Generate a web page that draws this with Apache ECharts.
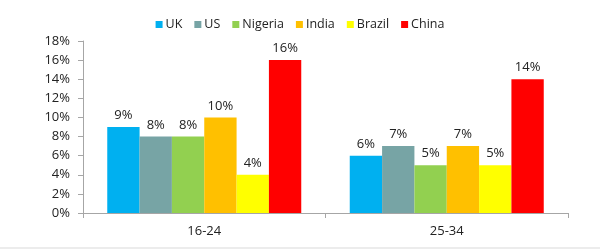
<!DOCTYPE html>
<html><head><meta charset="utf-8">
<script src="https://cdn.jsdelivr.net/npm/echarts@6/dist/echarts.min.js"></script>
<style>html,body{margin:0;padding:0;background:#fff}#c{width:600px;height:250px}</style>
</head><body><div id="c"></div>
<script>
var categories = ['16-24', '25-34'];
var seriesNames = ['UK', 'US', 'Nigeria', 'India', 'Brazil', 'China'];
var ukValues = [9, 6];
var usValues = [8, 7];
var nigeriaValues = [8, 5];
var indiaValues = [10, 7];
var brazilValues = [4, 5];
var chinaValues = [16, 14];
var yTicks = [0, 2, 4, 6, 8, 10, 12, 14, 16, 18];
var colors = ['#00B0F0', '#77A4A5', '#92D050', '#FFC000', '#FFFF00', '#FF0000'];
var allValues = [ukValues, usValues, nigeriaValues, indiaValues, brazilValues, chinaValues];
var font = "'Open Sans', 'Noto Sans', sans-serif";

var chart = echarts.init(document.getElementById('c'));
chart.setOption({
  animation: false,
  textStyle: { fontFamily: font },
  legend: {
    top: 13, left: 'center',
    itemWidth: 7, itemHeight: 7, itemGap: 12,
    icon: 'rect',
    textStyle: { fontSize: 12.5, color: '#222', fontFamily: font, padding: [0, 0, 0, -2] },
    data: seriesNames
  },
  grid: { left: 83, right: 32, top: 41, bottom: 37 },
  xAxis: {
    type: 'category', data: categories,
    axisLine: { lineStyle: { color: '#A6A6A6' } },
    axisTick: { show: true, length: 5, lineStyle: { color: '#A6A6A6' } },
    axisLabel: { fontSize: 13, color: '#222', margin: 12 }
  },
  yAxis: {
    type: 'value', min: yTicks[0], max: yTicks[yTicks.length - 1], interval: 2,
    axisLine: { show: true, lineStyle: { color: '#A6A6A6' } },
    axisTick: { show: true, length: 5, lineStyle: { color: '#A6A6A6' } },
    splitLine: { show: false },
    axisLabel: { fontSize: 13, color: '#222', margin: 13, formatter: '{value}%' }
  },
  graphic: [{
    type: 'line', shape: { x1: 0, y1: 248, x2: 600, y2: 248 },
    style: { stroke: '#D9D9D9', lineWidth: 1 }
  }],
  series: seriesNames.map(function (n, i) {
    return {
      name: n, type: 'bar', data: allValues[i],
      barGap: '0%', barCategoryGap: '20%',
      itemStyle: { color: colors[i] },
      label: { show: true, position: 'top', fontSize: 13, color: '#222', distance: 5, formatter: '{c}%' }
    };
  })
});
</script></body></html>
